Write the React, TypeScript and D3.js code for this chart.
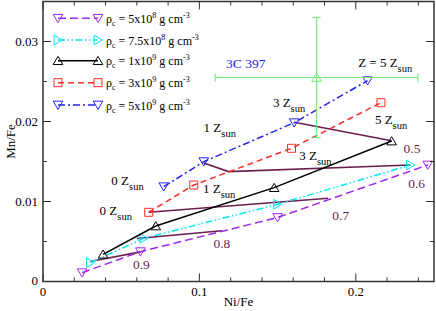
import React from "react";
import * as d3 from "d3";

const W = 436, H = 311;
const M = { left: 43, right: 2, top: 1.5, bottom: 29.5 };

const seriesNames = ["5x10|8", "7.5x10|8", "1x10|9", "3x10|9", "5x10|9"];
const rho5e8 = [[0.025, 0.0011], [0.0623, 0.00373], [0.150, 0.0080], [0.246, 0.01456]];
const rho75e8 = [[0.0303, 0.00235], [0.0644, 0.0054], [0.150, 0.00965], [0.235, 0.01456]];
const rho1e9 = [[0.0384, 0.0034], [0.0721, 0.00694], [0.1478, 0.01173], [0.2229, 0.01756]];
const rho3e9 = [[0.0676, 0.00865], [0.0964, 0.01206], [0.1589, 0.01665], [0.2161, 0.02235]];
const rho5e9 = [[0.0772, 0.01185], [0.1028, 0.01498], [0.1606, 0.01985], [0.2075, 0.0251]];

const obsPoint = [0.1749, 0.0255];
const obsErrX = 0.0648;
const obsErrY = 0.0075;

const iso05 = [[0.1606, 0.0199], [0.2229, 0.0176]];
const iso06 = [[0.1028, 0.0148], [0.1186, 0.01374], [0.235, 0.01456]];
const iso07 = [[0.0676, 0.00865], [0.1823, 0.0104]];
const iso08 = [[0.0600, 0.00538], [0.1143, 0.00635]];
const iso09 = [[0.0303, 0.0025], [0.0623, 0.0037]];

const isoLabels = ["0.5", "0.6", "0.7", "0.8", "0.9"];
const isoLabelPos = [[0.2305, 0.01610], [0.2335, 0.01165], [0.1850, 0.00770], [0.1090, 0.00416], [0.0575, 0.00156]];

const zLabels = [
  { t: "0 Z", sub: "sun", p: [0.0437, 0.0121] },
  { t: "0 Z", sub: "sun", p: [0.0362, 0.0083] },
  { t: "1 Z", sub: "sun", p: [0.1027, 0.0187] },
  { t: "1 Z", sub: "sun", p: [0.1023, 0.0111] },
  { t: "3 Z", sub: "sun", p: [0.1470, 0.0218] },
  { t: "3 Z", sub: "sun", p: [0.1638, 0.0152] },
  { t: "5 Z", sub: "sun", p: [0.2122, 0.0197] },
  { t: "Z = 5 Z", sub: "sun", p: [0.2015, 0.0268] },
];

const xTicks = [0, 0.1, 0.2];
const xMinor = [0.02, 0.04, 0.06, 0.08, 0.12, 0.14, 0.16, 0.18, 0.22, 0.24];
const yTicks = [0, 0.01, 0.02, 0.03];
const yMinor = [0.005, 0.015, 0.025, 0.035];

const COL = {
  purple: "#a028ee",
  cyan: "#00e8f0",
  black: "#000000",
  red: "#ff2a2a",
  blue: "#2323f0",
  green: "#7aea7a",
  maroon: "#6c1f4e",
};

const FONT = "Liberation Serif, DejaVu Serif, serif";

type Marker = "down" | "right" | "up" | "square";

function MarkerShape({ kind, x, y, color }: { kind: Marker; x: number; y: number; color: string }) {
  const s = 4.8;
  let d = "";
  if (kind === "down") d = `M${x - s},${y - s * 0.8} L${x + s},${y - s * 0.8} L${x},${y + s * 0.9} Z`;
  if (kind === "up") d = `M${x - s},${y + s * 0.8} L${x + s},${y + s * 0.8} L${x},${y - s * 0.9} Z`;
  if (kind === "right") d = `M${x - s * 0.8},${y - s} L${x - s * 0.8},${y + s} L${x + s * 0.9},${y} Z`;
  if (kind === "square") d = `M${x - 4},${y - 4} h8 v8 h-8 Z`;
  return <path d={d} fill="none" stroke={color} strokeWidth={1} />;
}

const series = [
  { data: rho5e8, color: COL.purple, dash: "8,4", marker: "down" as Marker },
  { data: rho75e8, color: COL.cyan, dash: "7,2.5,1.5,2.5,1.5,2.5", marker: "right" as Marker },
  { data: rho1e9, color: COL.black, dash: "", marker: "up" as Marker },
  { data: rho3e9, color: COL.red, dash: "6,4", marker: "square" as Marker },
  { data: rho5e9, color: COL.blue, dash: "7,3,2,3", marker: "down" as Marker },
];

export default function App() {
  const x = d3.scaleLinear().domain([0, 0.25]).range([M.left, W - M.right]);
  const y = d3.scaleLinear().domain([0, 0.035]).range([H - M.bottom, M.top]);
  const line = d3.line<number[]>().x((d) => x(d[0])).y((d) => y(d[1]));
  const isos = [iso05, iso06, iso07, iso08, iso09];
  const x0 = x(0), x1 = x(0.25), y0 = y(0), y1 = y(0.035);
  const tstyle = { fontFamily: FONT };

  return (
    <svg width={W} height={H} style={{ position: "absolute", left: 0, top: 0, background: "#fff", fontFamily: FONT }}>
      {isos.map((d, i) => (
        <path key={"iso" + i} d={line(d) || ""} fill="none" stroke={COL.maroon} strokeWidth={1.6} />
      ))}
      {series.map((s, i) => (
        <g key={"s" + i}>
          <path d={line(s.data) || ""} fill="none" stroke={s.color} strokeWidth={1.5} strokeDasharray={s.dash || undefined} />
          {s.data.map((p, j) => (
            <MarkerShape key={j} kind={s.marker} x={x(p[0])} y={y(p[1])} color={s.color} />
          ))}
        </g>
      ))}
      <g stroke={COL.green} strokeWidth={1.2} fill="none">
        <line x1={x(obsPoint[0] - obsErrX)} x2={x(obsPoint[0] + obsErrX)} y1={y(obsPoint[1])} y2={y(obsPoint[1])} />
        <line x1={x(obsPoint[0])} x2={x(obsPoint[0])} y1={y(obsPoint[1] - obsErrY)} y2={y(obsPoint[1] + obsErrY)} />
        <line x1={x(obsPoint[0] - obsErrX)} x2={x(obsPoint[0] - obsErrX)} y1={y(obsPoint[1]) - 4} y2={y(obsPoint[1]) + 4} />
        <line x1={x(obsPoint[0] + obsErrX)} x2={x(obsPoint[0] + obsErrX)} y1={y(obsPoint[1]) - 4} y2={y(obsPoint[1]) + 4} />
        <line x1={x(obsPoint[0]) - 4} x2={x(obsPoint[0]) + 4} y1={y(obsPoint[1] + obsErrY)} y2={y(obsPoint[1] + obsErrY)} />
        <line x1={x(obsPoint[0]) - 4} x2={x(obsPoint[0]) + 4} y1={y(obsPoint[1] - obsErrY)} y2={y(obsPoint[1] - obsErrY)} />
      </g>
      <MarkerShape kind="up" x={x(obsPoint[0])} y={y(obsPoint[1])} color={COL.green} />
      <text x={226} y={68} fontSize={13.5} fill={COL.blue} style={tstyle}>3C 397</text>

      {zLabels.map((l, i) => (
        <text key={"z" + i} x={x(l.p[0])} y={y(l.p[1])} fontSize={13} fill="#000" style={tstyle}>
          {l.t}
          <tspan fontSize={10.5} dy={5}>{l.sub}</tspan>
        </text>
      ))}
      {isoLabels.map((t, i) => (
        <text key={"il" + i} x={x(isoLabelPos[i][0])} y={y(isoLabelPos[i][1])} fontSize={13.5} fill={COL.maroon} style={tstyle}>{t}</text>
      ))}

      <rect x={x0} y={y1} width={x1 - x0} height={y0 - y1} fill="none" stroke="#333" strokeWidth={1.5} />
      <g stroke="#333" strokeWidth={1}>
        {xTicks.map((t) => (
          <g key={"xt" + t}>
            <line x1={x(t)} x2={x(t)} y1={y0} y2={y0 - 8} />
            <line x1={x(t)} x2={x(t)} y1={y1} y2={y1 + 8} />
          </g>
        ))}
        {xMinor.map((t) => (
          <g key={"xm" + t}>
            <line x1={x(t)} x2={x(t)} y1={y0} y2={y0 - 4} />
            <line x1={x(t)} x2={x(t)} y1={y1} y2={y1 + 4} />
          </g>
        ))}
        {yTicks.map((t) => (
          <g key={"yt" + t}>
            <line x1={x0} x2={x0 + 8} y1={y(t)} y2={y(t)} />
            <line x1={x1} x2={x1 - 8} y1={y(t)} y2={y(t)} />
          </g>
        ))}
        {yMinor.map((t) => (
          <g key={"ym" + t}>
            <line x1={x0} x2={x0 + 4} y1={y(t)} y2={y(t)} />
            <line x1={x1} x2={x1 - 4} y1={y(t)} y2={y(t)} />
          </g>
        ))}
      </g>
      {xTicks.map((t) => (
        <text key={"xl" + t} x={x(t)} y={y0 + 14.5} fontSize={13} textAnchor="middle" fill="#000" style={tstyle}>{d3.format("")(t)}</text>
      ))}
      {yTicks.map((t) => (
        <text key={"yl" + t} x={x0 - 5} y={y(t) + (t === 0 ? 3 : 4.5)} fontSize={13} textAnchor="end" fill="#000" style={tstyle}>{d3.format("")(t)}</text>
      ))}
      <text x={(x0 + x1) / 2} y={306} fontSize={13} textAnchor="middle" fill="#000" style={tstyle}>Ni/Fe</text>
      <text transform={`translate(15,${(y0 + y1) / 2}) rotate(-90)`} fontSize={13} textAnchor="middle" fill="#000" style={tstyle}>Mn/Fe</text>

      {series.map((s, i) => {
        const ly = [18.3, 40, 60.7, 82.7, 105][i];
        const [mant, exp] = seriesNames[i].split("|");
        return (
          <g key={"lg" + i}>
            <line x1={58} x2={98} y1={ly} y2={ly} stroke={s.color} strokeWidth={1.5} strokeDasharray={s.dash || undefined} />
            <MarkerShape kind={s.marker} x={58} y={ly} color={s.color} />
            <MarkerShape kind={s.marker} x={98} y={ly} color={s.color} />
            <text x={106} y={ly + 4.5} fontSize={12} fill="#000" style={tstyle}>
              ρ<tspan fontSize={8} dy={3}>c</tspan>
              <tspan dy={-3}>{` = ${mant}`}</tspan>
              <tspan fontSize={8} dy={-5}>{exp}</tspan>
              <tspan dy={5}> g cm</tspan>
              <tspan fontSize={8} dy={-5}>-3</tspan>
            </text>
          </g>
        );
      })}
    </svg>
  );
}
